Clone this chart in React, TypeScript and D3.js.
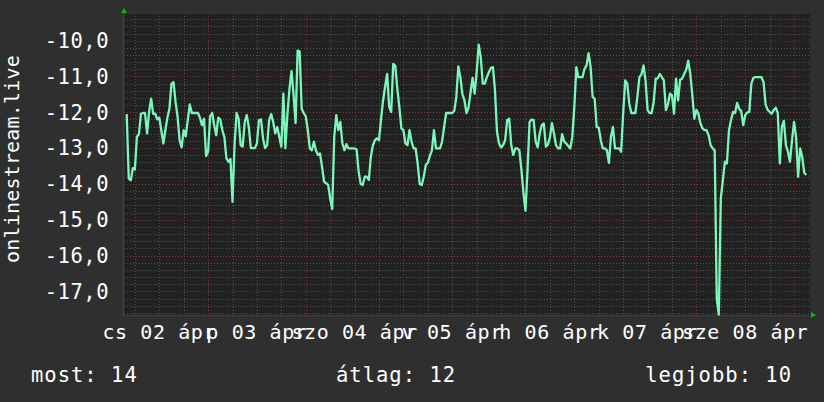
import * as d3 from "d3";

// rank of onlinestream.live, read every 30 minutes from 2020-04-02 04:00
const rankValues = [
  -12.05, -13.85, -13.9, -13.56, -13.6, -12.69, -12.61, -12.04, -12.02, -12.02,
  -12.59, -11.99, -11.62, -12.04, -12.04, -12.2, -12.15, -12.5, -12.87, -12.5,
  -12.15, -11.9, -11.2, -11.16, -11.71, -12.13, -12.78, -12.98, -12.5, -12.67,
  -12.22, -11.78, -12.02, -12.02, -12.02, -12.02, -12.15, -12.36, -12.18, -13.22,
  -13.1, -12.11, -12.02, -12.36, -12.64, -12.15, -12.2, -12.5, -12.69, -13.29,
  -13.38, -13.3, -14.5, -12.9, -12.02, -12.18, -12.92, -12.96, -12.27, -12.08,
  -12.41, -13.0, -13.0, -13.0, -12.87, -12.22, -12.2, -12.73, -13.0, -12.92,
  -12.22, -12.05, -12.27, -12.59, -12.41, -12.69, -12.96, -11.48, -13.0, -12.04,
  -11.34, -10.85, -11.5, -12.3, -10.28, -10.3, -11.9, -12.02, -12.11, -12.5,
  -13.01, -13.06, -12.82, -13.06, -13.19, -13.15, -13.52, -13.94, -13.98, -14.03,
  -14.4, -14.7, -12.69, -12.08, -12.5, -12.27, -12.87, -13.06, -12.89, -13.01,
  -13.01, -13.01, -13.01, -13.04, -13.66, -14.0, -14.03, -13.8, -13.8, -13.89,
  -13.24, -12.92, -12.78, -12.73, -12.78, -12.2, -11.67, -11.28, -10.93, -11.85,
  -11.99, -10.65, -10.7, -11.34, -11.85, -12.45, -12.5, -12.87, -12.92, -12.5,
  -12.82, -13.01, -13.01, -13.43, -14.0, -14.03, -13.8, -13.47, -13.41, -13.22,
  -13.06, -12.5, -13.01, -13.01, -13.01, -12.82, -12.41, -12.02, -12.02, -12.02,
  -12.02, -11.96, -11.57, -10.72, -11.02, -11.5, -11.67, -12.02, -11.87, -11.44,
  -11.04, -11.48, -10.88, -10.11, -10.46, -11.2, -11.2, -11.02, -10.88, -10.76,
  -10.74, -11.39, -12.55, -12.87, -12.98, -12.92, -12.78, -12.22, -12.18, -12.92,
  -13.19, -13.01, -13.01, -13.06, -13.61, -14.26, -14.75, -13.61, -12.27, -12.2,
  -12.22, -12.82, -12.98, -12.59, -12.36, -12.31, -12.96, -12.9, -12.7, -12.3,
  -12.59, -12.92, -13.01, -13.01, -12.61, -12.82, -12.87, -12.94, -13.01, -12.69,
  -11.85, -10.74, -11.02, -11.02, -11.02, -10.79, -10.69, -10.35, -10.74, -11.57,
  -11.62, -12.41, -12.43, -12.78, -13.01, -13.01, -13.06, -13.41, -12.69, -12.41,
  -13.01, -13.01, -13.01, -13.1, -12.04, -11.11, -11.2, -11.76, -12.02, -12.02,
  -12.02, -11.57, -11.02, -10.94, -10.69, -11.11, -11.94, -12.02, -12.02, -11.71,
  -11.06, -11.05, -10.93, -11.02, -11.11, -11.94, -11.78, -11.48, -11.53, -12.04,
  -11.06, -11.67, -11.09, -11.06, -10.93, -10.81, -10.56, -10.93, -11.53, -12.18,
  -11.93, -12.04, -12.31, -12.45, -12.5, -12.5, -12.64, -12.92, -13.01, -13.06,
  -17.2, -17.65, -14.4, -13.9, -13.38, -13.43, -12.5, -12.22, -11.99, -12.02,
  -11.74, -11.9, -11.96, -12.36, -12.08, -12.0, -11.99, -11.2, -11.04, -11.02,
  -11.02, -11.02, -11.02, -11.16, -11.78, -11.93, -11.99, -12.04, -11.94, -11.87,
  -12.02, -13.43, -12.41, -12.24, -12.92, -13.1, -13.38, -12.78, -12.27, -12.69,
  -13.8, -13.01, -13.24, -13.69, -13.75,
];
const firstSample = new Date(2020, 3, 2, 4, 0);
const sampleMinutes = 30;

const yTicks = [-10, -11, -12, -13, -14, -15, -16, -17];
const yTickLabels = ["-10,0", "-11,0", "-12,0", "-13,0", "-14,0", "-15,0", "-16,0", "-17,0"];
const dayLabels = ["cs 02 ápr", "p 03 ápr", "szo 04 ápr", "v 05 ápr", "h 06 ápr", "k 07 ápr", "sze 08 ápr"];
const legendItems = ["most: 14", "átlag: 12", "legjobb: 10"];
const axisTitle = "onlinestream.live";

const W = 824;
const H = 402;
const plot = { left: 124, right: 810, top: 14, bottom: 315 };
const font = "'DejaVu Sans Mono', monospace";

export default function App() {
  const start = new Date(2020, 3, 2, 3, 20);
  const end = new Date(2020, 3, 9, 3, 55);

  const x = d3.scaleTime().domain([start, end]).range([plot.left, plot.right]);
  const y = d3.scaleLinear().domain([-17.66, -9.255]).range([plot.bottom, plot.top]);

  const points = rankValues.map((v, i) => ({
    t: d3.timeMinute.offset(firstSample, i * sampleMinutes),
    v,
  }));

  const line = d3.line<{ t: Date; v: number }>()
    .x(d => x(d.t))
    .y(d => y(d.v));

  // grid
  const minorY: number[] = [];
  const [y0, y1] = y.domain();
  for (let k = Math.ceil(y0 * 5); k <= Math.floor(y1 * 5); k++) {
    if (k % 5 !== 0) minorY.push(k / 5);
  }
  const minorX = d3.timeHour.every(6)!.range(start, end).filter(d => d.getHours() !== 0);
  const majorX = d3.timeDay.range(start, end);
  const labelDays = dayLabels.map((_, i) => new Date(2020, 3, 2 + i, 12, 0));

  const minorColor = "#525252";
  const majorColor = "#7a3434";

  return (
    <svg
      width={W}
      height={H}
      style={{ position: "fixed", left: 0, top: 0, display: "block" }}
      fontFamily={font}
    >
      <rect width={W} height={H} fill="#2f2f2f" />
      <rect
        x={plot.left}
        y={plot.top}
        width={plot.right - plot.left}
        height={plot.bottom - plot.top}
        fill="#212121"
      />

      {minorY.map(v => (
        <line key={"my" + v} x1={plot.left} x2={plot.right} y1={Math.round(y(v)) + 0.5} y2={Math.round(y(v)) + 0.5}
          stroke={minorColor} strokeDasharray="1,2" />
      ))}
      {minorX.map(d => (
        <line key={"mx" + d.getTime()} x1={Math.round(x(d)) + 0.5} x2={Math.round(x(d)) + 0.5} y1={plot.top - 1} y2={plot.bottom}
          stroke={minorColor} strokeDasharray="1,2" />
      ))}
      {yTicks.map(v => (
        <line key={"My" + v} x1={plot.left} x2={plot.right} y1={Math.round(y(v)) + 0.5} y2={Math.round(y(v)) + 0.5}
          stroke={majorColor} strokeDasharray="1,2" />
      ))}
      {majorX.map(d => (
        <line key={"Mx" + d.getTime()} x1={Math.round(x(d)) + 0.5} x2={Math.round(x(d)) + 0.5} y1={plot.top - 1} y2={plot.bottom + 3}
          stroke={majorColor} strokeDasharray="1,2" />
      ))}

      {/* axes */}
      <line x1={plot.left - 0.5} x2={plot.left - 0.5} y1={plot.top - 2} y2={plot.bottom + 2} stroke="#3c3c3c" strokeWidth={2} />
      <line x1={plot.left - 3} x2={plot.right + 2} y1={plot.bottom + 0.5} y2={plot.bottom + 0.5} stroke="#3c3c3c" strokeWidth={1.5} />
      <path d={`M${plot.left - 3},${plot.top - 1} L${plot.left + 3},${plot.top - 1} L${plot.left},${plot.top - 6} Z`} fill="#00c000" />
      <path d={`M${plot.right + 1},${plot.bottom - 3} L${plot.right + 1},${plot.bottom + 3} L${plot.right + 6},${plot.bottom} Z`} fill="#00c000" />

      <path d={line(points) ?? ""} fill="none" stroke="#7cf7bb" strokeWidth={2.3} strokeLinejoin="round" />

      {yTicks.map((v, i) => (
        <text key={"yl" + v} x={109} y={y(v) + 7.3} textAnchor="end" fill="#ffffff" fontSize={20.5} letterSpacing={0.5}>
          {yTickLabels[i]}
        </text>
      ))}
      {labelDays.map((d, i) => (
        <text key={"xl" + i} x={x(d)} y={339} textAnchor="middle" fill="#ffffff" fontSize={20} letterSpacing={0.6}>
          {dayLabels[i]}
        </text>
      ))}

      <text
        transform={`translate(18.5,159) rotate(-90)`}
        textAnchor="middle"
        fill="#ffffff"
        fontSize={20}
        letterSpacing={0.2}
      >
        {axisTitle}
      </text>

      <text x={31} y={382} fill="#ffffff" fontSize={20.5} letterSpacing={1}>{legendItems[0]}</text>
      <text x={336} y={382} fill="#ffffff" fontSize={20.5} letterSpacing={1}>{legendItems[1]}</text>
      <text x={792} y={382} textAnchor="end" fill="#ffffff" fontSize={20.5} letterSpacing={1}>{legendItems[2]}</text>
    </svg>
  );
}
